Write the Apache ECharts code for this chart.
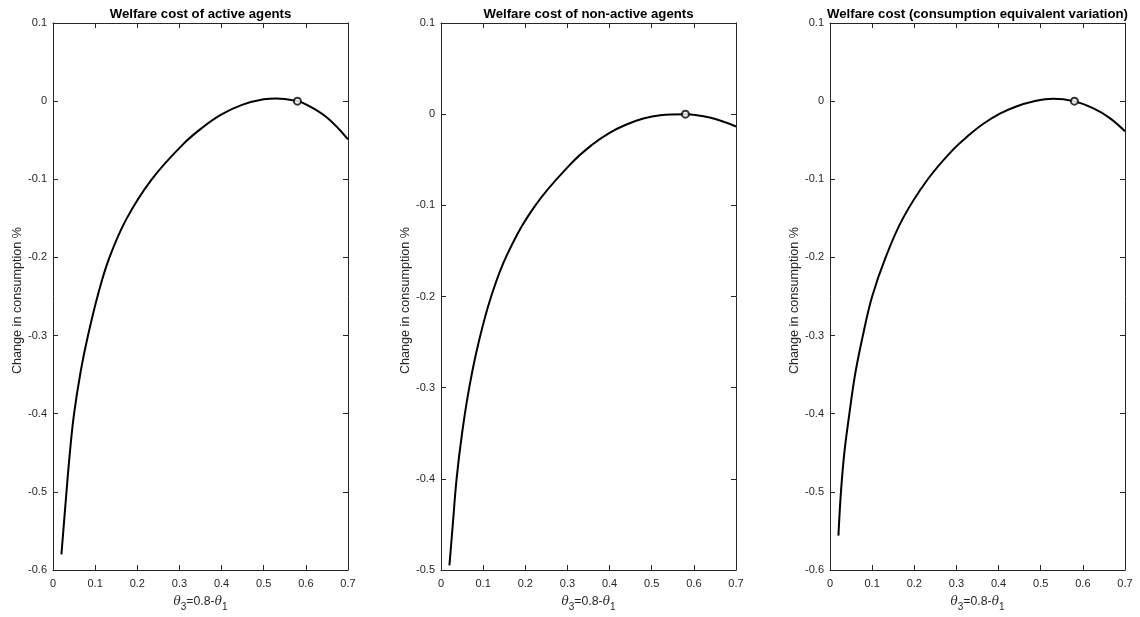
<!DOCTYPE html>
<html lang="en">
  <head>
    <meta charset="UTF-8" />
    <title>Welfare cost</title>
    <script src="https://cdn.jsdelivr.net/npm/echarts@6/dist/echarts.min.js"></script>
    <style>
      html, body { margin: 0; padding: 0; background: #fff; }
    </style>
  </head>
  <body>
    <div id="chart" style="width: 1140px; height: 617px"></div>
    <script>
      // welfare cost of active agents
      const activeX = [0.02, 0.032, 0.04, 0.05, 0.066, 0.083, 0.107, 0.134, 0.174, 0.233, 0.309, 0.354,
        0.4, 0.45, 0.5, 0.53, 0.58, 0.6, 0.65, 0.7];
      const activeY = [-0.58, -0.5, -0.45, -0.4, -0.345, -0.3, -0.247, -0.2, -0.151, -0.101, -0.055, -0.034,
        -0.017, -0.0045, 0.0024, 0.0035, 0, -0.004, -0.021, -0.049];

      // welfare cost of non-active agents
      const nonActiveX = [0.02, 0.028, 0.037, 0.05, 0.067, 0.0895, 0.119, 0.158, 0.224, 0.309, 0.36,
        0.4, 0.44, 0.48, 0.52, 0.58, 0.64, 0.7];
      const nonActiveY = [-0.495, -0.45, -0.4, -0.35, -0.3, -0.25, -0.2, -0.153, -0.1, -0.054, -0.033,
        -0.0204, -0.0113, -0.0047, -0.0011, 0, -0.004, -0.0135];

      // consumption equivalent variation
      const totalX = [0.02, 0.026, 0.034, 0.046, 0.0595, 0.078, 0.1, 0.132, 0.173, 0.232, 0.292, 0.332,
        0.363, 0.403, 0.442, 0.482, 0.53, 0.578, 0.624, 0.664, 0.7];
      const totalY = [-0.556, -0.5, -0.45, -0.4, -0.35, -0.3, -0.25, -0.2, -0.15, -0.1, -0.062, -0.0425,
        -0.0293, -0.0161, -0.0068, -0.0004, 0.003, 0, -0.009, -0.0217, -0.0386];

      // current calibration point marked with a circle
      const markX = [0.58, 0.58, 0.58];
      const markY = [0, 0, 0];

      const titles = [
        "Welfare cost of active agents",
        "Welfare cost of non-active agents",
        "Welfare cost (consumption equivalent variation)",
      ];
      const yMins = [-0.6, -0.5, -0.6];
      const yMax = 0.1;
      const xTickLabels = ["0", "0.1", "0.2", "0.3", "0.4", "0.5", "0.6", "0.7"];

      const curves = [[activeX, activeY], [nonActiveX, nonActiveY], [totalX, totalY]];
      const lefts = [53, 441, 830];
      const plotW = 295;
      const ink = "#262626";
      const font = "Liberation Sans, Arial, Helvetica, sans-serif";

      const chart = echarts.init(document.getElementById("chart"));

      const grid = [], xAxis = [], yAxis = [], series = [], title = [];
      lefts.forEach((l, i) => {
        grid.push({ left: l, width: plotW, top: 23, bottom: 44 });
        title.push({
          text: titles[i],
          left: l + plotW / 2,
          top: 8,
          padding: 0,
          textAlign: "center",
          textStyle: { fontFamily: font, fontSize: 13.2, fontWeight: "bold", color: "#000" },
        });
        const tick = { show: true, inside: true, length: 5, lineStyle: { color: ink } };
        const line = { show: true, onZero: false, lineStyle: { color: ink, width: 1 } };
        xAxis.push({
          gridIndex: i, type: "value", min: 0, max: 0.7, interval: 0.1,
          axisLine: line, axisTick: tick, splitLine: { show: false },
          axisLabel: {
            color: ink, fontFamily: font, fontSize: 11, margin: 8,
            formatter: (v) => xTickLabels[Math.round(v * 10)],
          },
          name: "{t|θ}{s|3}{n|=0.8-}{t|θ}{s|1}",
          nameLocation: "middle", nameGap: 22,
          nameTextStyle: {
            rich: {
              t: { fontFamily: "DejaVu Serif, serif", fontStyle: "italic", fontSize: 12, color: ink, lineHeight: 20, verticalAlign: "middle" },
              n: { fontFamily: font, fontSize: 12.3, color: ink, lineHeight: 20, verticalAlign: "middle" },
              s: { fontFamily: font, fontSize: 10, color: ink, lineHeight: 10, verticalAlign: "bottom" },
            },
          },
        });
        xAxis.push({
          gridIndex: i, type: "value", position: "top", min: 0, max: 0.7, interval: 0.1,
          axisLine: line, axisTick: tick, axisLabel: { show: false }, splitLine: { show: false },
        });
        yAxis.push({
          gridIndex: i, type: "value", min: yMins[i], max: yMax, interval: 0.1,
          axisLine: line, axisTick: tick, splitLine: { show: false },
          axisLabel: {
            color: ink, fontFamily: font, fontSize: 11, margin: 6,
            formatter: (v) => String(Math.round(v * 10) / 10),
          },
          name: "Change in consumption %",
          nameLocation: "middle", nameGap: 27.5,
          nameTextStyle: { color: ink, fontFamily: font, fontSize: 12.6, padding: [0, 8, 0, 0] },
        });
        yAxis.push({
          gridIndex: i, type: "value", position: "right", min: yMins[i], max: yMax, interval: 0.1,
          axisLine: line, axisTick: tick, axisLabel: { show: false }, splitLine: { show: false },
        });
        const [xs, ys] = curves[i];
        series.push({
          type: "line",
          xAxisIndex: 2 * i, yAxisIndex: 2 * i,
          data: xs.map((x, k) => [x, ys[k]]),
          showSymbol: false, smooth: 0.4,
          lineStyle: { color: "#000", width: 2 },
          silent: true, animation: false,
        });
        series.push({
          type: "scatter",
          xAxisIndex: 2 * i, yAxisIndex: 2 * i,
          data: [[markX[i], markY[i]]],
          symbol: "emptyCircle", symbolSize: 7,
          itemStyle: { color: "#000", borderColor: "#000", borderWidth: 1.7 },
          silent: true, animation: false, z: 5,
        });
      });

      chart.setOption({ animation: false, title, grid, xAxis, yAxis, series });
    </script>
  </body>
</html>
